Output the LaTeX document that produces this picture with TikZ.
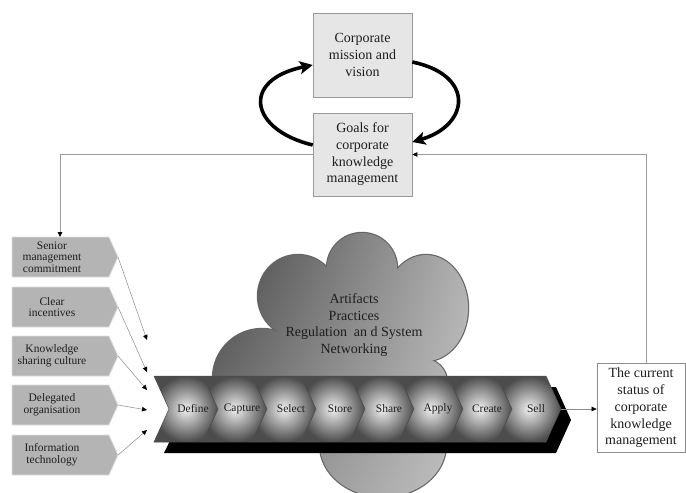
\documentclass[tikz,border=0pt]{standalone}
\usepackage{fontspec}
\setmainfont{Liberation Serif}
\usetikzlibrary{arrows.meta,calc,shadings}
\definecolor{txt}{HTML}{1E1E1E}
\definecolor{topfill}{HTML}{E6E6E6}
\definecolor{lbfill}{HTML}{B4B4B4}
\definecolor{thin}{HTML}{9A9A9A}
\tikzset{
  topbox/.style={draw=black!40, fill=topfill, line width=0.6pt, minimum width=99pt,
    minimum height=84pt, align=center, inner sep=0pt, text=txt,
    font=\fontsize{14}{16.7}\selectfont},
  statbox/.style={draw=black!45, fill=white, line width=0.7pt, minimum width=88pt,
    minimum height=89pt, align=center, inner sep=0pt, text=txt,
    font=\fontsize{14}{16.7}\selectfont},
  lbshape/.style={fill=lbfill, draw=black!12, line width=0.8pt},
  lbtext/.style={align=center, inner sep=0pt, text=txt,
    font=\fontsize{11.5}{11.7}\selectfont},
  chevtext/.style={inner sep=0pt, text=txt, font=\fontsize{11.5}{13}\selectfont},
  cloudtext/.style={align=center, inner sep=0pt, text=txt,
    font=\fontsize{14}{16.7}\selectfont},
  fb/.style={draw=thin, line width=0.8pt, -{Triangle[length=5pt,width=4.5pt,color=black]}},
  fa/.style={draw=black!45, line width=0.5pt, -{Triangle[length=5pt,width=4.5pt,color=black]}},
  bigarrow/.style={line width=3.6pt, black, -{Stealth[length=13pt,width=13pt,inset=3pt]}},
  cloudline/.style={draw=black!60, line width=2.4pt},
  cloudpart/.style={path picture={\shade[upper left=black!75, upper right=black!30,
      lower left=black!50, lower right=black!22] (210,225) rectangle (475,500);}},
  chevshade/.style={inner color=black!6, outer color=black!70, draw=black!70, line width=0.5pt}
}
\begin{document}
\begin{tikzpicture}[x=1pt,y=-1pt]
\useasboundingbox[fill=white] (0,0) rectangle (686,493);

% ---------------- top boxes
\node[topbox] (mission) at (362.5,55) {Corporate\\mission and\\vision};
\node[topbox, minimum height=83pt] (goals) at (362.5,154.5) {Goals for\\corporate\\knowledge\\management};

\draw[bigarrow] ([yshift=9.5pt]goals.west) .. controls (250,130) and (240,80) .. ([yshift=-10pt]mission.west);
\draw[bigarrow] ([yshift=-7pt]mission.east) .. controls (475,75) and (470,125) .. ([yshift=12.5pt]goals.east);

% ---------------- cloud
\draw[cloudline] (262,378) circle[radius=49pt];
\draw[cloudline] (298,296) ellipse[x radius=40pt, y radius=41pt];
\draw[cloudline] (362,268) circle[radius=35pt];
\draw[cloudline] (426,308) ellipse[x radius=42pt, y radius=53pt];
\draw[cloudline] (424,382) circle[radius=23pt];
\draw[cloudline] (383,445) ellipse[x radius=63pt, y radius=52pt];
\path[cloudpart] (262,378) circle[radius=49pt];
\path[cloudpart] (298,296) ellipse[x radius=40pt, y radius=41pt];
\path[cloudpart] (362,268) circle[radius=35pt];
\path[cloudpart] (426,308) ellipse[x radius=42pt, y radius=53pt];
\path[cloudpart] (424,382) circle[radius=23pt];
\path[cloudpart] (383,445) ellipse[x radius=63pt, y radius=52pt];
\path[cloudpart] (262,378) -- (298,296) -- (362,268) -- (426,308) -- (424,382) -- (383,445) -- cycle;
\node[cloudtext] (cloud) at (354,325) {Artifacts\\Practices\\Regulation \ an d System\\Networking};

% ---------------- process band
\fill[black] (164,387) -- (556,387) -- (571,420) -- (556,453) -- (164,453) -- (180,420) -- cycle;
\foreach \lab [count=\i from 0] in {Define,Capture,Select,Store,Share,Apply,Create,Sell}{
  \pgfmathsetmacro{\xa}{154+49*\i}
  \shade[chevshade] (\xa,376) -- ++(49,0) -- ++(15,33) -- ++(-15,33) -- ++(-49,0) -- ++(15,-33) -- cycle;
  \node[chevtext] (\lab) at (\xa+39,409) {\lab};
}
\coordinate (bandtip) at (561,409);

% ---------------- status box
\node[statbox] (status) at (641,408) {The current\\status of\\corporate\\knowledge\\management};
\draw[fa] (bandtip) -- (bandtip -| status.west);
\draw[fb] ([xshift=5pt]status.north) |- (goals.east);

% ---------------- left factor boxes
\foreach \yc/\nm/\tx in {257/senior/{Senior\\management\\commitment},
                         307/clear/{Clear\\incentives},
                         356/sharing/{Knowledge\\sharing culture},
                         405/deleg/{Delegated\\organisation},
                         455/infot/{Information\\technology}}{
  \filldraw[lbshape] (12,\yc-20) -- (109,\yc-20) -- (118,\yc) -- (109,\yc+20) -- (12,\yc+20) -- cycle;
  \node[lbtext] (\nm) at (52,\yc) {\tx};
  \coordinate (\nm tip) at (118,\yc);
}
\coordinate (seniorin) at (60,237);
\draw[fb] (goals.west) -| (seniorin);

\coordinate (in1) at (147,340);
\coordinate (in2) at (147,372);
\coordinate (in3) at (147,390);
\coordinate (in4) at (147,410);
\coordinate (in5) at (147,430);
\draw[fa] (seniortip) -- (in1);
\draw[fa] (cleartip) -- (in2);
\draw[fa] (sharingtip) -- (in3);
\draw[fa] (delegtip) -- (in4);
\draw[fa] (infottip) -- (in5);
\end{tikzpicture}
\end{document}
